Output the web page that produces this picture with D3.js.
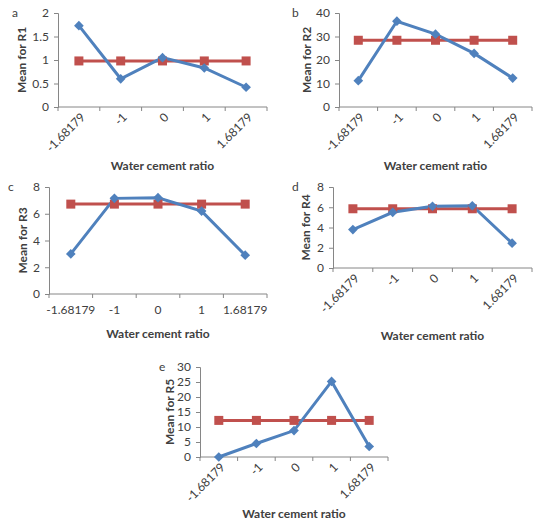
<!DOCTYPE html>
<html>
<head>
<meta charset="utf-8">
<script src="https://cdn.jsdelivr.net/npm/d3@7"></script>
<style>
  body { margin: 0; background: #fff; }
  text { font-family: Lato, "Open Sans", sans-serif; fill: #404040; }
</style>
</head>
<body>
<div id="container"></div>
<script>
/* DATA */
const levels = ["-1.68179", "-1", "0", "1", "1.68179"];

const r1Mean = [1.73, 0.6, 1.05, 0.83, 0.42];
const r1Avg = [0.98, 0.98, 0.98, 0.98, 0.98];
const r1Ticks = [0, 0.5, 1, 1.5, 2];

const r2Mean = [11.2, 36.5, 31, 22.8, 12.3];
const r2Avg = [28.4, 28.4, 28.4, 28.4, 28.4];
const r2Ticks = [0, 10, 20, 30, 40];

const r3Mean = [3.0, 7.15, 7.2, 6.2, 2.9];
const r3Avg = [6.72, 6.72, 6.72, 6.72, 6.72];
const r3Ticks = [0, 2, 4, 6, 8];

const r4Mean = [3.8, 5.5, 6.1, 6.15, 2.45];
const r4Avg = [5.85, 5.85, 5.85, 5.85, 5.85];
const r4Ticks = [0, 2, 4, 6, 8];

const r5Mean = [0, 4.5, 8.8, 25.2, 3.5];
const r5Avg = [12.2, 12.2, 12.2, 12.2, 12.2];
const r5Ticks = [0, 5, 10, 15, 20, 25, 30];

/* CONSTANTS */
const width = 535, height = 521;
const blue = "#4F81BD", red = "#C0504D", axisColor = "#868686";
const fs = "12px";

const svg = d3.select("#container")
  .append("svg")
  .attr("width", width)
  .attr("height", height);

// one small chart
function panel(p) {
  const g = svg.append("g");
  const xScale = d3.scaleBand().domain(levels).range([p.x0, p.x1]);
  const yScale = d3.scaleLinear().domain([0, d3.max(p.ticks)]).range([p.y0, p.y1]);

  // y axis
  const yAxis = g.append("g")
    .attr("transform", `translate(${p.x0},0)`)
    .call(d3.axisLeft(yScale).tickValues(p.ticks).tickSize(4).tickPadding(5).tickFormat(d3.format("")));
  yAxis.selectAll("line, path").attr("stroke", axisColor);
  yAxis.selectAll("text").style("font-size", fs).style("font-family", null).attr("fill", "#404040");
  yAxis.attr("font-family", null);

  // x axis with ticks at band boundaries
  g.append("line")
    .attr("x1", p.x0).attr("x2", p.x1)
    .attr("y1", p.y0).attr("y2", p.y0)
    .attr("stroke", axisColor);
  const bounds = levels.map(d => xScale(d)).concat([p.x1]);
  g.selectAll(".xt").data(bounds).join("line")
    .attr("x1", d => d).attr("x2", d => d)
    .attr("y1", p.y0).attr("y2", p.y0 + 4)
    .attr("stroke", axisColor);

  const cx = d => xScale(d) + xScale.bandwidth() / 2;
  if (p.rotate) {
    g.selectAll(".xl").data(levels).join("text")
      .attr("text-anchor", "end")
      .attr("transform", d => `translate(${cx(d) + 4},${p.y0 + 8}) rotate(-45)`)
      .attr("dy", "0.35em")
      .style("font-size", fs)
      .text(d => d);
  } else {
    g.selectAll(".xl").data(levels).join("text")
      .attr("text-anchor", "middle")
      .attr("x", cx).attr("y", p.y0 + 20)
      .style("font-size", fs)
      .text(d => d);
  }

  // titles
  g.append("text")
    .attr("x", (p.x0 + p.x1) / 2).attr("y", p.titleY)
    .attr("text-anchor", "middle")
    .style("font-size", fs).style("font-weight", "bold")
    .text("Water cement ratio");
  g.append("text")
    .attr("transform", `translate(${p.labelX},${(p.y0 + p.y1) / 2}) rotate(-90)`)
    .attr("text-anchor", "middle")
    .attr("dy", "0.35em")
    .style("font-size", fs).style("font-weight", "bold")
    .text(p.label);
  g.append("text")
    .attr("x", p.letterX).attr("y", p.y1)
    .attr("dy", "0.35em")
    .style("font-size", fs)
    .text(p.letter);

  // lines
  const line = d3.line().x((d, i) => cx(levels[i])).y(d => yScale(d));
  g.append("path").datum(p.avg).attr("d", line)
    .attr("fill", "none").attr("stroke", red).attr("stroke-width", 3);
  g.append("path").datum(p.mean).attr("d", line)
    .attr("fill", "none").attr("stroke", blue).attr("stroke-width", 3);

  g.selectAll(".sq").data(p.avg).join("rect")
    .attr("x", (d, i) => cx(levels[i]) - 4.5)
    .attr("y", d => yScale(d) - 4.5)
    .attr("width", 9).attr("height", 9)
    .attr("fill", red);
  g.selectAll(".dm").data(p.mean).join("path")
    .attr("d", d3.symbol(d3.symbolDiamond2, 60))
    .attr("transform", (d, i) => `translate(${cx(levels[i])},${yScale(d)})`)
    .attr("fill", blue);
}

panel({ x0: 58, x1: 267, y0: 107, y1: 13, ticks: r1Ticks, mean: r1Mean, avg: r1Avg,
        label: "Mean for R1", labelX: 22, letter: "a", letterX: 12, titleY: 170, rotate: true });
panel({ x0: 339, x1: 532, y0: 107, y1: 13, ticks: r2Ticks, mean: r2Mean, avg: r2Avg,
        label: "Mean for R2", labelX: 307, letter: "b", letterX: 292, titleY: 170, rotate: true });
panel({ x0: 49, x1: 267, y0: 294, y1: 187, ticks: r3Ticks, mean: r3Mean, avg: r3Avg,
        label: "Mean for R3", labelX: 23, letter: "c", letterX: 8, titleY: 338, rotate: false });
panel({ x0: 333, x1: 532, y0: 268, y1: 187, ticks: r4Ticks, mean: r4Mean, avg: r4Avg,
        label: "Mean for R4", labelX: 306, letter: "d", letterX: 292, titleY: 340, rotate: true });
panel({ x0: 200, x1: 388, y0: 457, y1: 367, ticks: r5Ticks, mean: r5Mean, avg: r5Avg,
        label: "Mean for R5", labelX: 170, letter: "e", letterX: 159, titleY: 518, rotate: true });
</script>
</body>
</html>
